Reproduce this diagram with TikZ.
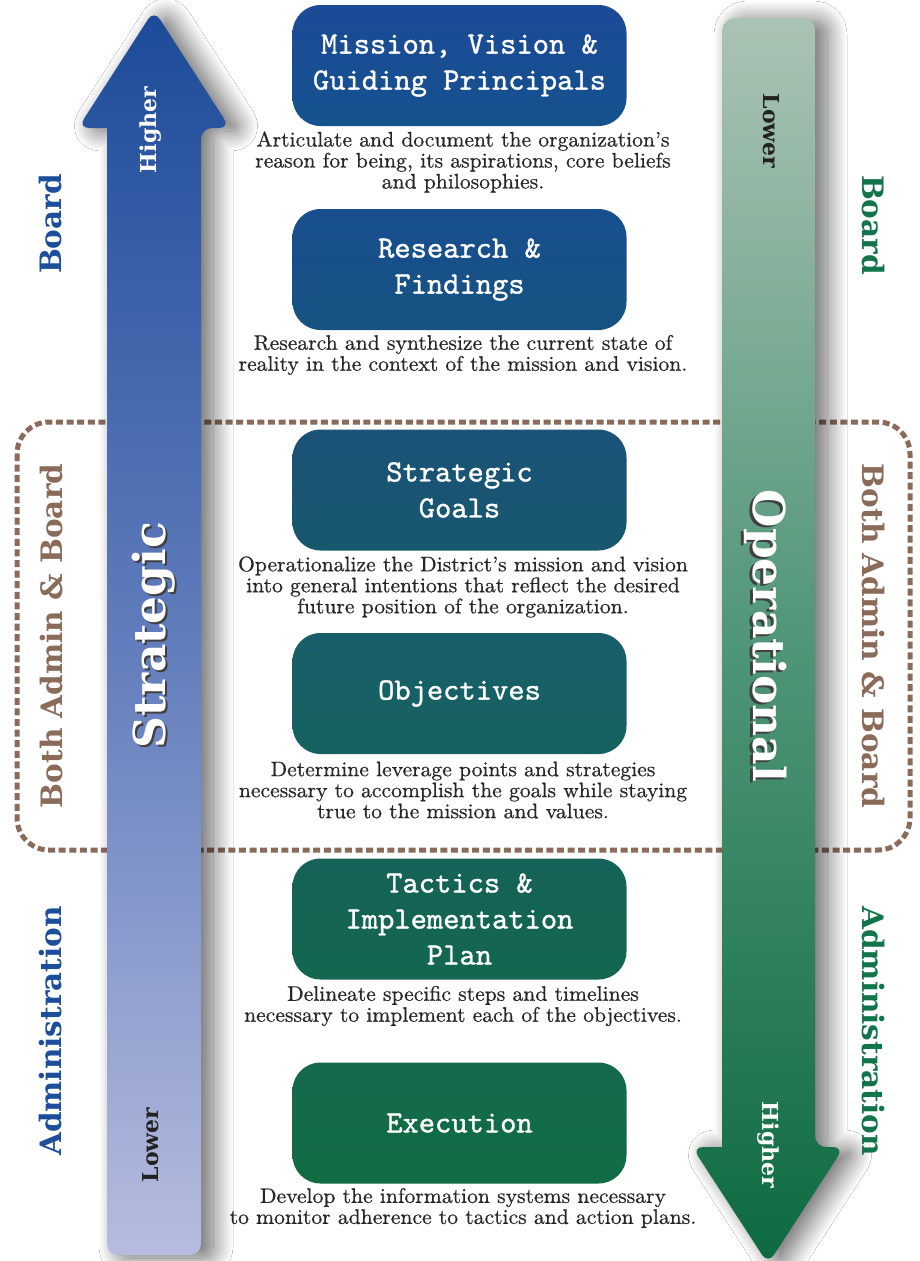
\documentclass[tikz,border=0pt]{standalone}
\usepackage{fontspec}
\usetikzlibrary{shadows.blur}
\newfontfamily\slab{DejaVu Serif}
\newfontfamily\ttl{lmmono10-regular.otf}[FakeBold=1.1]
\newfontfamily\descf{lmroman10-regular.otf}[FakeStretch=1.03, FakeBold=0.6]
\newcommand\descfont{\descf\fontsize{21}{21}\selectfont}
\definecolor{descgray}{HTML}{262626}
\definecolor{brownlbl}{HTML}{8A6A58}
\definecolor{bluelbl}{HTML}{1D4E9B}
\definecolor{greenlbl}{HTML}{12744A}
\definecolor{lowtxt}{HTML}{222222}
\tikzset{
  box/.style={rounded corners=28pt, minimum width=334pt, minimum height=121pt,
    text=white, align=center, inner sep=0pt,
    font=\ttl\fontsize{31}{36}\selectfont},
  desc/.style={align=center, text=descgray, font=\descfont, inner sep=0pt},
  side/.style={font=\slab\bfseries\fontsize{29.5}{29.5}\selectfont, inner sep=0pt},
  lvl/.style={font=\slab\bfseries\fontsize{22}{22}\selectfont, inner sep=0pt},
  big/.style={font=\slab\bfseries\fontsize{44}{44}\selectfont, inner sep=0pt},
  arrowshadow/.style={blur shadow={shadow xshift=12pt, shadow yshift=-3pt,
    shadow blur radius=20pt, shadow blur steps=24, shadow opacity=60}},
}
\begin{document}
\begin{tikzpicture}[x=1pt,y=-1pt]
\useasboundingbox (0,0) rectangle (919,1261);
\fill[white] (0,0) rectangle (919,1261);

% dotted frame
\draw[brownlbl, line width=5pt, dash pattern=on 7pt off 3.6pt, rounded corners=32pt]
  (17,422) rectangle (910,850);

% left (strategic) arrow
\path[arrowshadow,
      top color={rgb,255:red,29;green,75;blue,153},
      bottom color={rgb,255:red,182;green,188;blue,222},
      middle color={rgb,255:red,96;green,124;blue,188}]
  (107,128) [rounded corners=11pt] -- (78,128) -- (154,10) -- (230,128) -- (201,128)
  [sharp corners] -- (201,700) [rounded corners=11pt] -- (201,1255) -- (107,1255) -- (107,700)
  [sharp corners] -- cycle;

% right (operational) arrow
\path[arrowshadow,
      top color={rgb,255:red,171;green,195;blue,180},
      bottom color={rgb,255:red,13;green,106;blue,64},
      middle color={rgb,255:red,80;green,150;blue,120}]
  (722,1147) [rounded corners=11pt] -- (692,1147) -- (768,1264) -- (844,1147) -- (815,1147)
  [sharp corners] -- (815,600) [rounded corners=13pt] -- (815,18) -- (722,18) -- (722,600)
  [sharp corners] -- cycle;

% arrow labels
\node[lvl, text=white, rotate=90] (lhigh) at (151,130) {Higher};
\node[lvl, text=lowtxt, rotate=90] (llow) at (151,1145) {Lower};
\node[lvl, text=lowtxt, rotate=-90] (rlow) at (771,131) {Lower};
\node[lvl, text=white, rotate=-90] (rhigh) at (768,1145) {Higher};

\node[big, text=black!75, rotate=90] (strats) at (156,637) {Strategic};
\node[big, text=white, rotate=90] (strat) at (154,635) {Strategic};
\node[big, text=black!75, rotate=-90] (opers) at (763,638) {Operational};
\node[big, text=white, rotate=-90] (oper) at (766,636) {Operational};

% side labels
\node[side, text=bluelbl, rotate=90] (lboard) at (51,224) {Board};
\node[side, text=brownlbl, rotate=90] (lboth) at (52,636) {Both Admin \& Board};
\node[side, text=bluelbl, rotate=90] (ladmin) at (51,1031) {Administration};
\node[side, text=greenlbl, rotate=-90] (rboard) at (873,225) {Board};
\node[side, text=brownlbl, rotate=-90] (rboth) at (873,636) {Both Admin \& Board};
\node[side, text=greenlbl, rotate=-90] (radmin) at (873,1031) {Administration};

% boxes
\node[box, top color={rgb,255:red,28;green,74;blue,151}, bottom color={rgb,255:red,21;green,82;blue,142}]
  (b1) at (459.5,65.5) {Mission, Vision \&\\Guiding Principals};
\node[box, top color={rgb,255:red,24;green,78;blue,143}, bottom color={rgb,255:red,22;green,83;blue,128}]
  (b2) at (459.5,269.5) {Research \&\\Findings};
\node[box, top color={rgb,255:red,26;green,82;blue,120}, bottom color={rgb,255:red,24;green,88;blue,110}]
  (b3) at (459.5,490) {Strategic\\Goals};
\node[box, top color={rgb,255:red,24;green,94;blue,106}, bottom color={rgb,255:red,22;green,98;blue,96}]
  (b4) at (459.5,693.5) {Objectives};
\node[box, top color={rgb,255:red,21;green,98;blue,88}, bottom color={rgb,255:red,19;green,103;blue,80}]
  (b5) at (459.5,919) {Tactics \&\\Implementation\\Plan};
\node[box, top color={rgb,255:red,20;green,106;blue,76}, bottom color={rgb,255:red,17;green,108;blue,68}]
  (b6) at (459.5,1123) {Execution};

% descriptions
\node[desc] (d1) at (463,162) {Articulate and document the organization’s\\reason for being, its aspirations, core beliefs\\and philosophies.};
\node[desc] (d2) at (463,355) {Research and synthesize the current state of\\reality in the context of the mission and vision.};
\node[desc] (d3) at (463,587) {Operationalize the District’s mission and vision\\into general intentions that reflect the desired\\future position of the organization.};
\node[desc] (d4) at (463,790) {Determine leverage points and strategies\\necessary to accomplish the goals while staying\\true to the mission and values.};
\node[desc] (d5) at (463,1006) {Delineate specific steps and timelines\\necessary to implement each of the objectives.};
\node[desc] (d6) at (463,1208) {Develop the information systems necessary\\to monitor adherence to tactics and action plans.};
\end{tikzpicture}
\end{document}
